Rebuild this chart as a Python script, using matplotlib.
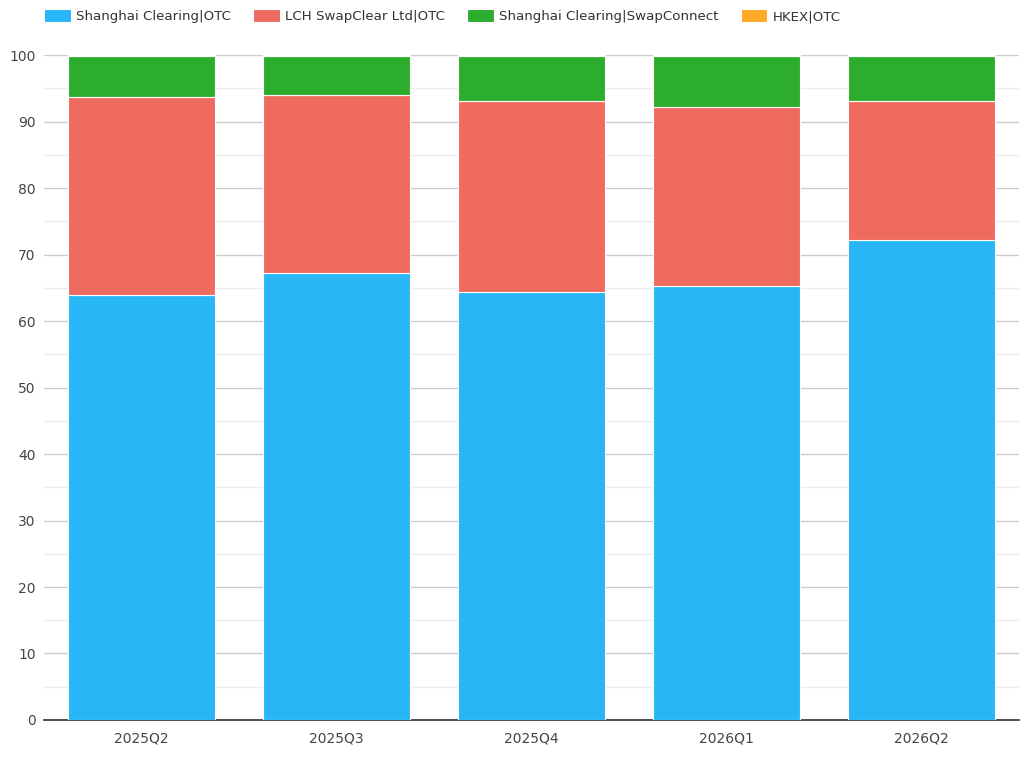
import matplotlib
matplotlib.use('Agg')
import matplotlib.pyplot as plt
import numpy as np

quarters = ['2025Q2', '2025Q3', '2025Q4', '2026Q1', '2026Q2']
shanghai_otc = [63.9, 67.2, 64.4, 65.3, 72.2]
lch_otc = [29.8, 26.8, 28.7, 26.9, 20.9]
hkex_otc = [0.1, 0.1, 0.1, 0.1, 0.1]
swapconnect = [100 - a - b - c for a, b, c in zip(shanghai_otc, lch_otc, hkex_otc)]

names = ['Shanghai Clearing|OTC', 'LCH SwapClear Ltd|OTC',
         'Shanghai Clearing|SwapConnect', 'HKEX|OTC']
colors = ['#29B6F6', '#EF6B5F', '#2DAD2D', '#FFA726']
series = [shanghai_otc, lch_otc, swapconnect, hkex_otc]

plt.rcParams['font.family'] = ['DejaVu Sans']

fig = plt.figure(figsize=(10.24, 7.59), dpi=100)
ax = fig.add_axes([0.043, 0.0514, 0.952, 0.876])

x = np.arange(len(quarters))
bottom = np.zeros(len(quarters))
for name, vals, col in zip(names, series, colors):
    ax.bar(x, vals, width=0.75, bottom=bottom, color=col, label=name,
           edgecolor='white', linewidth=0.8, zorder=3)
    bottom += np.array(vals)

ax.set_xlim(-0.5, len(quarters) - 0.5)
ax.set_ylim(0, 100)
ax.set_xticks(x)
ax.set_xticklabels(quarters)
ax.set_yticks(np.arange(0, 101, 10))
ax.set_yticks(np.arange(5, 100, 10), minor=True)
ax.grid(axis='y', which='major', color='#cccccc', linewidth=1, zorder=0)
ax.grid(axis='y', which='minor', color='#ececec', linewidth=1, zorder=0)
for s in ['top', 'right', 'left']:
    ax.spines[s].set_visible(False)
ax.spines['bottom'].set_color('#333333')
ax.spines['bottom'].set_linewidth(1.2)
ax.tick_params(axis='both', which='both', length=0, labelsize=10, colors='#444444')
ax.tick_params(axis='x', pad=8)
ax.tick_params(axis='y', pad=6)

leg = fig.legend(loc='center left', bbox_to_anchor=(44 / 1024, 1 - 16.5 / 759), ncol=4,
                 frameon=False, fontsize=9.6, handlelength=2.0, handleheight=1.0,
                 columnspacing=1.65, handletextpad=0.4, borderpad=0, borderaxespad=0,
                 labelcolor='#333333')
for h in leg.legend_handles:
    h.set_height(9.4)
    h.set_y(-1.4)

fig.savefig('out.png', dpi=100)
